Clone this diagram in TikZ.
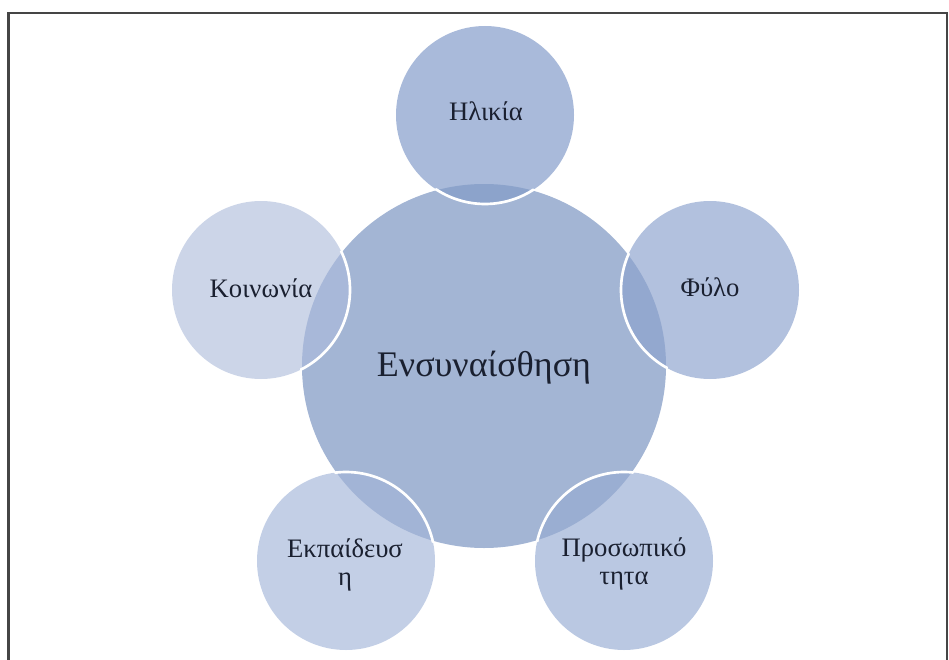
\documentclass[tikz,border=0pt]{standalone}
\usepackage{fontspec}
\setmainfont{Liberation Serif}
\definecolor{cmain}{HTML}{A3B5D4}
\definecolor{cH}{HTML}{A9BADA}
\definecolor{cF}{HTML}{B2C1DE}
\definecolor{cK}{HTML}{CCD5E8}
\definecolor{cE}{HTML}{C3CFE6}
\definecolor{cP}{HTML}{BAC8E2}
\definecolor{oH}{HTML}{8CA3CB}
\definecolor{oF}{HTML}{93A8CF}
\definecolor{oK}{HTML}{A8B8D9}
\definecolor{oE}{HTML}{A2B4D6}
\definecolor{oP}{HTML}{9AAED2}
\definecolor{txt}{HTML}{1A2030}
\definecolor{framec}{HTML}{454545}
\begin{document}
\begin{tikzpicture}[x=0.75pt,y=-0.75pt,
  lab/.style={text=txt, font=\fontsize{20}{21}\selectfont, align=center, inner sep=0pt},
  bigr/.style={radius=136.5pt},
  smallr/.style={radius=66.75pt}]
\useasboundingbox (0,0) rectangle (949,660);
\draw[framec, line width=1.6pt] (8.5,700) -- (8.5,13) -- (947,13) -- (947,700);
\coordinate (m) at (484,366);
\fill[cmain] (m) circle [bigr];
\foreach \n/\x/\y/\c/\o in {H/485/115/cH/oH, F/710/290/cF/oF, K/261/290/cK/oK, E/346/561/cE/oE, P/624/561/cP/oP}{
  \coordinate (s\n) at (\x,\y);
  \fill[\c] (s\n) circle [smallr];
  \begin{scope}
    \clip (m) circle [bigr];
    \fill[\o] (s\n) circle [smallr];
  \end{scope}
  \begin{scope}
    \clip (m) circle [radius=138pt];
    \draw[white, line width=2pt] (s\n) circle [smallr];
  \end{scope}
}
\node[lab, font=\fontsize{27}{30}\selectfont, anchor=base] (tm) at (484,376) {Ενσυναίσθηση};
\node[lab, anchor=base] (tH) at (486,120) {Ηλικία};
\node[lab, anchor=base] (tF) at (710,296) {Φύλο};
\node[lab, anchor=base] (tK) at (261,297) {Κοινωνία};
\node[lab] (tE) at (345,565) {Εκπαίδευσ\\η};
\node[lab] (tP) at (624,564) {Προσωπικό\\τητα};
\end{tikzpicture}
\end{document}
